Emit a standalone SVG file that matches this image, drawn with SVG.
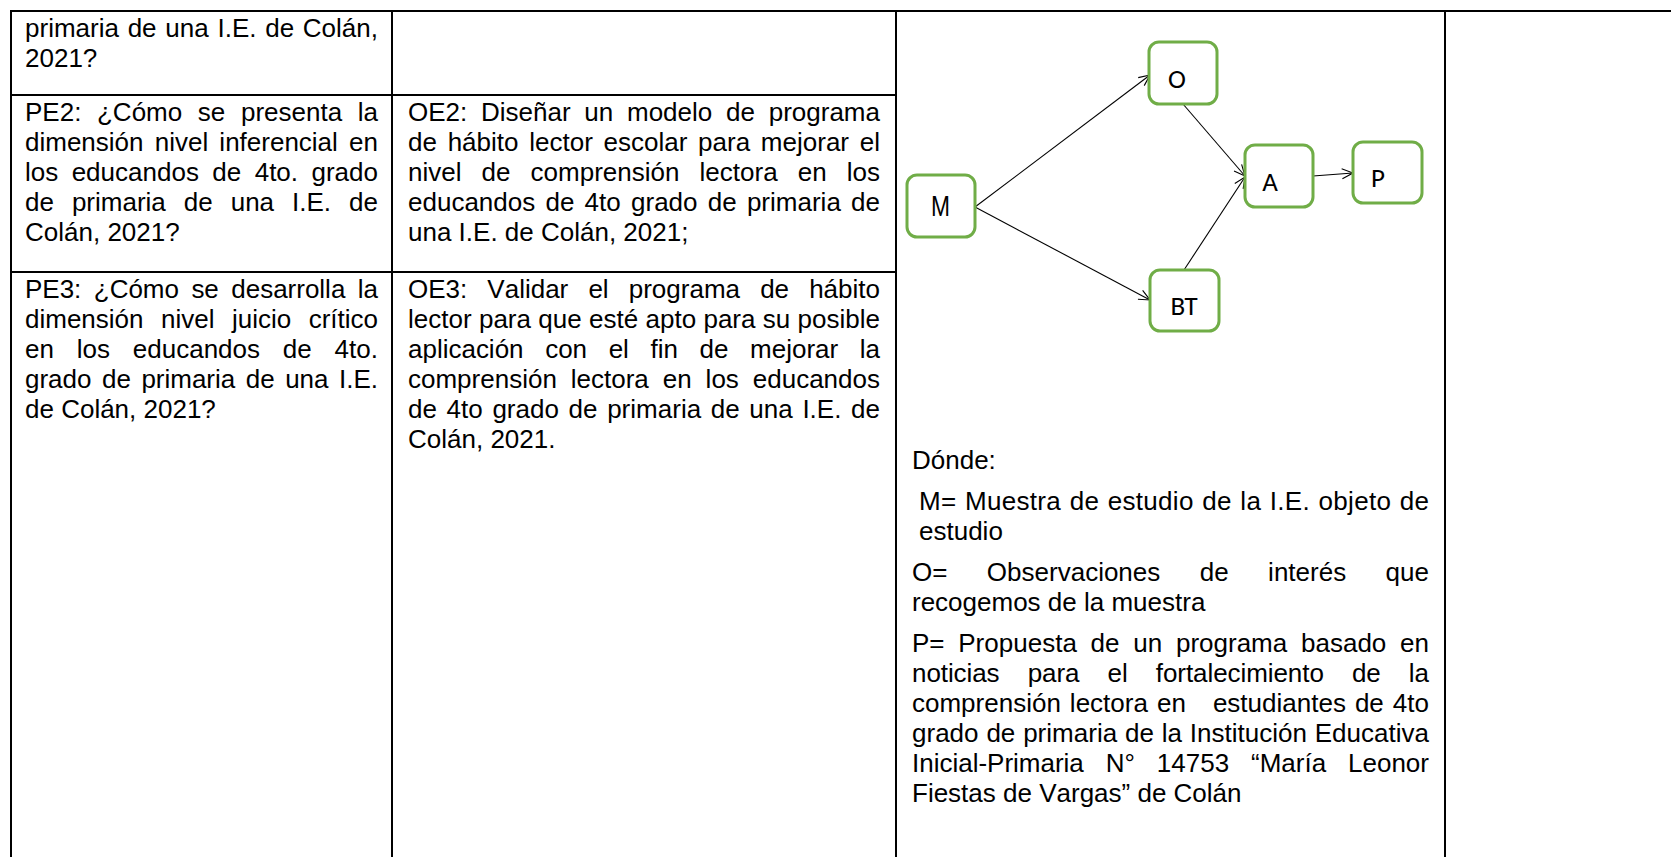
<svg xmlns="http://www.w3.org/2000/svg" width="1671" height="857" viewBox="0 0 1671 857">
<style>
.t{font-family:"Liberation Sans",Arial,sans-serif;font-size:26px;fill:#000;font-kerning:none}
.grid{stroke:#000;stroke-width:2;fill:none}
.node rect{fill:#fff;stroke:#70AD47;stroke-width:3}
.lbl{font-family:Carlito,Calibri,Lato,"Open Sans",sans-serif;font-size:27px;font-weight:normal;fill:#000}
.lblM{font-family:"Liberation Sans",Arial,sans-serif;font-size:29px;fill:#000}
.edge{stroke:#000;stroke-width:1.1;fill:none;marker-end:url(#arr)}
</style>
<defs>
<marker id="arr" markerWidth="14" markerHeight="14" refX="12" refY="7" orient="auto" markerUnits="userSpaceOnUse">
<path d="M1,2 L12,7 L1,12" fill="none" stroke="#000" stroke-width="1.1"/>
</marker>
</defs>
<rect width="1671" height="857" fill="#fff"/>
<g id="table">
<line class="grid" x1="10" y1="11" x2="1671" y2="11"/>
<line class="grid" x1="11" y1="10" x2="11" y2="857"/>
<line class="grid" x1="392" y1="10" x2="392" y2="857"/>
<line class="grid" x1="896" y1="10" x2="896" y2="857"/>
<line class="grid" x1="1445" y1="10" x2="1445" y2="857"/>
<line class="grid" x1="11" y1="95" x2="896" y2="95"/>
<line class="grid" x1="11" y1="272" x2="896" y2="272"/>
</g>
<g id="col1">
<text class="t" x="25" y="37" textLength="353" lengthAdjust="spacing" style="word-spacing:1.5px">primaria de una I.E. de Colán,</text>
<text class="t" x="25" y="67">2021?</text>
<text class="t" x="25" y="121" textLength="353" lengthAdjust="spacing" style="word-spacing:8.4px">PE2: ¿Cómo se presenta la</text>
<text class="t" x="25" y="151" textLength="353" lengthAdjust="spacing" style="word-spacing:4px">dimensión nivel inferencial en</text>
<text class="t" x="25" y="181" textLength="353" lengthAdjust="spacing" style="word-spacing:6.2px">los educandos de 4to. grado</text>
<text class="t" x="25" y="211" textLength="353" lengthAdjust="spacing" style="word-spacing:10.8px">de primaria de una I.E. de</text>
<text class="t" x="25" y="241">Colán, 2021?</text>
<text class="t" x="25" y="298" textLength="353" lengthAdjust="spacing" style="word-spacing:5.2px">PE3: ¿Cómo se desarrolla la</text>
<text class="t" x="25" y="328" textLength="353" lengthAdjust="spacing" style="word-spacing:10.3px">dimensión nivel juicio crítico</text>
<text class="t" x="25" y="358" textLength="353" lengthAdjust="spacing" style="word-spacing:15.6px">en los educandos de 4to.</text>
<text class="t" x="25" y="388" textLength="353" lengthAdjust="spacing" style="word-spacing:3.3px">grado de primaria de una I.E.</text>
<text class="t" x="25" y="418">de Colán, 2021?</text>
</g>
<g id="col2">
<text class="t" x="408" y="121" textLength="472" lengthAdjust="spacing" style="word-spacing:6.5px">OE2: Diseñar un modelo de programa</text>
<text class="t" x="408" y="151" textLength="472" lengthAdjust="spacing" style="word-spacing:3.5px">de hábito lector escolar para mejorar el</text>
<text class="t" x="408" y="181" textLength="472" lengthAdjust="spacing" style="word-spacing:12.9px">nivel de comprensión lectora en los</text>
<text class="t" x="408" y="211" textLength="472" lengthAdjust="spacing" style="word-spacing:3px">educandos de 4to grado de primaria de</text>
<text class="t" x="408" y="241">una I.E. de Colán, 2021;</text>
<text class="t" x="408" y="298" textLength="472" lengthAdjust="spacing" style="word-spacing:12.9px">OE3: Validar el programa de hábito</text>
<text class="t" x="408" y="328" textLength="472" lengthAdjust="spacing" style="word-spacing:0.1px">lector para que esté apto para su posible</text>
<text class="t" x="408" y="358" textLength="472" lengthAdjust="spacing" style="word-spacing:14.4px">aplicación con el fin de mejorar la</text>
<text class="t" x="408" y="388" textLength="472" lengthAdjust="spacing" style="word-spacing:6.7px">comprensión lectora en los educandos</text>
<text class="t" x="408" y="418" textLength="472" lengthAdjust="spacing" style="word-spacing:2.4px">de 4to grado de primaria de una I.E. de</text>
<text class="t" x="408" y="448">Colán, 2021.</text>
</g>
<g id="legend">
<text class="t" x="912" y="469">Dónde:</text>
<text class="t" x="919" y="510" textLength="510" lengthAdjust="spacing" style="word-spacing:1px">M= Muestra de estudio de la I.E. objeto de</text>
<text class="t" x="919" y="540">estudio</text>
<text class="t" x="912" y="581" textLength="517" lengthAdjust="spacing" style="word-spacing:32.2px">O= Observaciones de interés que</text>
<text class="t" x="912" y="611">recogemos de la muestra</text>
<text class="t" x="912" y="652" textLength="517" lengthAdjust="spacing" style="word-spacing:6.5px">P= Propuesta de un programa basado en</text>
<text class="t" x="912" y="682" textLength="517" lengthAdjust="spacing" style="word-spacing:21px">noticias para el fortalecimiento de la</text>
<text class="t" x="912" y="712" textLength="517" lengthAdjust="spacing" xml:space="preserve" style="word-spacing:1.8px;white-space:pre">comprensión lectora en   estudiantes de 4to</text>
<text class="t" x="912" y="742" textLength="517" lengthAdjust="spacing" style="word-spacing:0.6px">grado de primaria de la Institución Educativa</text>
<text class="t" x="912" y="772" textLength="517" lengthAdjust="spacing" style="word-spacing:14.7px">Inicial-Primaria N° 14753 “María Leonor</text>
<text class="t" x="912" y="802">Fiestas de Vargas” de Colán</text>
</g>
<g id="connectors">
<line class="edge" x1="975" y1="207" x2="1150" y2="75"/>
<line class="edge" x1="975" y1="207" x2="1150" y2="300"/>
<line class="edge" x1="1183" y1="104" x2="1245" y2="176"/>
<line class="edge" x1="1184" y1="270" x2="1245" y2="177"/>
<line class="edge" x1="1313" y1="176" x2="1353" y2="173"/>
</g>
<g id="node-M" class="node">
<rect x="907" y="175" width="68" height="62" rx="10"/>
<text class="lblM" x="931" y="216" textLength="19" lengthAdjust="spacingAndGlyphs">M</text>
</g>
<g id="node-O" class="node">
<rect x="1149" y="42" width="68" height="62" rx="10"/>
<text class="lbl" x="1177" y="88" text-anchor="middle">O</text>
</g>
<g id="node-A" class="node">
<rect x="1245" y="145" width="68" height="62" rx="10"/>
<text class="lbl" x="1270" y="191" text-anchor="middle">A</text>
</g>
<g id="node-P" class="node">
<rect x="1353" y="142" width="69" height="61" rx="10"/>
<text class="lbl" x="1378" y="187" text-anchor="middle">P</text>
</g>
<g id="node-BT" class="node">
<rect x="1150" y="270" width="69" height="61" rx="10"/>
<text class="lbl" x="1184" y="315" text-anchor="middle">BT</text>
</g>
</svg>
